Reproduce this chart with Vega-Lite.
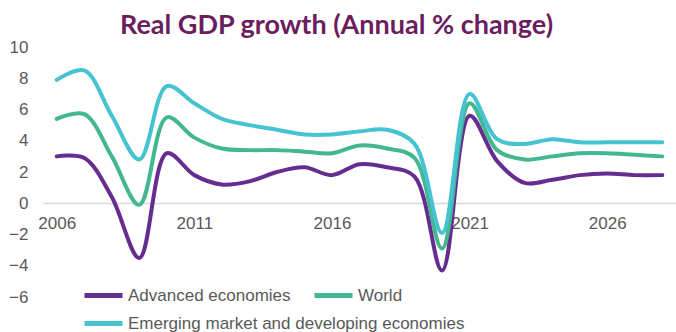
{
  "$schema": "https://vega.github.io/schema/vega-lite/v6.json",
  "width": 633,
  "height": 250,
  "autosize": {"type": "none"},
  "padding": {"left": 43, "top": 47, "right": 0, "bottom": 35},
  "background": "white",
  "title": {"text": "Real GDP growth (Annual % change)", "font": "Lato", "fontSize": 27, "fontWeight": "bold", "color": "#6B1D5E", "anchor": "middle", "frame": "group", "dx": -23, "offset": -2},
  "config": {"view": {"stroke": null}, "font": "Liberation Sans"},
  "data": {"values": [
    {"year": 2006, "series": "Advanced economies", "value": 3.0},
    {"year": 2007, "series": "Advanced economies", "value": 2.9},
    {"year": 2008, "series": "Advanced economies", "value": 0.4},
    {"year": 2009, "series": "Advanced economies", "value": -3.5},
    {"year": 2010, "series": "Advanced economies", "value": 3.2},
    {"year": 2011, "series": "Advanced economies", "value": 1.8},
    {"year": 2012, "series": "Advanced economies", "value": 1.2},
    {"year": 2013, "series": "Advanced economies", "value": 1.4},
    {"year": 2014, "series": "Advanced economies", "value": 2.0},
    {"year": 2015, "series": "Advanced economies", "value": 2.3},
    {"year": 2016, "series": "Advanced economies", "value": 1.8},
    {"year": 2017, "series": "Advanced economies", "value": 2.5},
    {"year": 2018, "series": "Advanced economies", "value": 2.3},
    {"year": 2019, "series": "Advanced economies", "value": 1.7},
    {"year": 2020, "series": "Advanced economies", "value": -4.3},
    {"year": 2021, "series": "Advanced economies", "value": 5.6},
    {"year": 2022, "series": "Advanced economies", "value": 2.7},
    {"year": 2023, "series": "Advanced economies", "value": 1.3},
    {"year": 2024, "series": "Advanced economies", "value": 1.5},
    {"year": 2025, "series": "Advanced economies", "value": 1.8},
    {"year": 2026, "series": "Advanced economies", "value": 1.9},
    {"year": 2027, "series": "Advanced economies", "value": 1.8},
    {"year": 2028, "series": "Advanced economies", "value": 1.8},
    {"year": 2006, "series": "World", "value": 5.4},
    {"year": 2007, "series": "World", "value": 5.7},
    {"year": 2008, "series": "World", "value": 3.0},
    {"year": 2009, "series": "World", "value": -0.1},
    {"year": 2010, "series": "World", "value": 5.5},
    {"year": 2011, "series": "World", "value": 4.2},
    {"year": 2012, "series": "World", "value": 3.5},
    {"year": 2013, "series": "World", "value": 3.4},
    {"year": 2014, "series": "World", "value": 3.4},
    {"year": 2015, "series": "World", "value": 3.3},
    {"year": 2016, "series": "World", "value": 3.2},
    {"year": 2017, "series": "World", "value": 3.7},
    {"year": 2018, "series": "World", "value": 3.5},
    {"year": 2019, "series": "World", "value": 2.9},
    {"year": 2020, "series": "World", "value": -2.9},
    {"year": 2021, "series": "World", "value": 6.4},
    {"year": 2022, "series": "World", "value": 3.4},
    {"year": 2023, "series": "World", "value": 2.8},
    {"year": 2024, "series": "World", "value": 3.0},
    {"year": 2025, "series": "World", "value": 3.2},
    {"year": 2026, "series": "World", "value": 3.2},
    {"year": 2027, "series": "World", "value": 3.1},
    {"year": 2028, "series": "World", "value": 3.0},
    {"year": 2006, "series": "Emerging market and developing economies", "value": 7.9},
    {"year": 2007, "series": "Emerging market and developing economies", "value": 8.5},
    {"year": 2008, "series": "Emerging market and developing economies", "value": 5.6},
    {"year": 2009, "series": "Emerging market and developing economies", "value": 2.8},
    {"year": 2010, "series": "Emerging market and developing economies", "value": 7.5},
    {"year": 2011, "series": "Emerging market and developing economies", "value": 6.4},
    {"year": 2012, "series": "Emerging market and developing economies", "value": 5.4},
    {"year": 2013, "series": "Emerging market and developing economies", "value": 5.0},
    {"year": 2014, "series": "Emerging market and developing economies", "value": 4.7},
    {"year": 2015, "series": "Emerging market and developing economies", "value": 4.4},
    {"year": 2016, "series": "Emerging market and developing economies", "value": 4.4},
    {"year": 2017, "series": "Emerging market and developing economies", "value": 4.6},
    {"year": 2018, "series": "Emerging market and developing economies", "value": 4.7},
    {"year": 2019, "series": "Emerging market and developing economies", "value": 3.8},
    {"year": 2020, "series": "Emerging market and developing economies", "value": -1.9},
    {"year": 2021, "series": "Emerging market and developing economies", "value": 7.0},
    {"year": 2022, "series": "Emerging market and developing economies", "value": 4.1},
    {"year": 2023, "series": "Emerging market and developing economies", "value": 3.8},
    {"year": 2024, "series": "Emerging market and developing economies", "value": 4.1},
    {"year": 2025, "series": "Emerging market and developing economies", "value": 3.9},
    {"year": 2026, "series": "Emerging market and developing economies", "value": 3.9},
    {"year": 2027, "series": "Emerging market and developing economies", "value": 3.9},
    {"year": 2028, "series": "Emerging market and developing economies", "value": 3.9}
  ]},
  "encoding": {
    "x": {"field": "year", "type": "quantitative",
      "scale": {"domain": [2005.5, 2028.5], "nice": false, "zero": false},
      "axis": {"values": [2006, 2011, 2016, 2021, 2026], "format": "d", "title": null, "offset": -94, "ticks": false, "grid": false, "domainColor": "#d9d9d9", "domainWidth": 1.5, "labelFontSize": 17, "labelColor": "#595959", "labelPadding": 12, "labelFlush": false, "zindex": 0}},
    "y": {"field": "value", "type": "quantitative",
      "scale": {"domain": [-6, 10], "nice": false},
      "axis": {"values": [-6, -4, -2, 0, 2, 4, 6, 8, 10], "title": null, "domain": false, "ticks": false, "grid": false, "labelFontSize": 17, "labelColor": "#595959", "labelPadding": 15, "zindex": 0}}
  },
  "layer": [
    {
      "transform": [{"filter": "datum.series != 'Emerging market and developing economies'"}],
      "mark": {"type": "line", "interpolate": "catmull-rom", "strokeWidth": 4, "strokeCap": "round"},
      "encoding": {
        "color": {"field": "series", "type": "nominal",
          "scale": {"domain": ["Advanced economies", "World"], "range": ["#662D91", "#43B692"]},
          "legend": {"orient": "none", "direction": "horizontal", "legendX": 39, "legendY": 227, "title": null, "gridAlign": "none", "columnPadding": 13, "symbolType": "stroke", "symbolSize": 1444, "symbolStrokeWidth": 5, "labelFontSize": 17, "labelColor": "#595959", "labelOffset": 3, "padding": 0, "labelLimit": 500}}
      }
    },
    {
      "transform": [{"filter": "datum.series == 'Emerging market and developing economies'"}],
      "mark": {"type": "line", "interpolate": "catmull-rom", "strokeWidth": 4, "strokeCap": "round"},
      "encoding": {
        "stroke": {"field": "series", "type": "nominal",
          "scale": {"domain": ["Emerging market and developing economies"], "range": ["#45C3D0"]},
          "legend": {"orient": "none", "direction": "horizontal", "legendX": 39, "legendY": 255, "title": null, "symbolType": "stroke", "symbolSize": 1444, "symbolStrokeWidth": 5, "labelFontSize": 17, "labelColor": "#595959", "labelOffset": 3, "padding": 0, "labelLimit": 500}}
      }
    }
  ]
}
